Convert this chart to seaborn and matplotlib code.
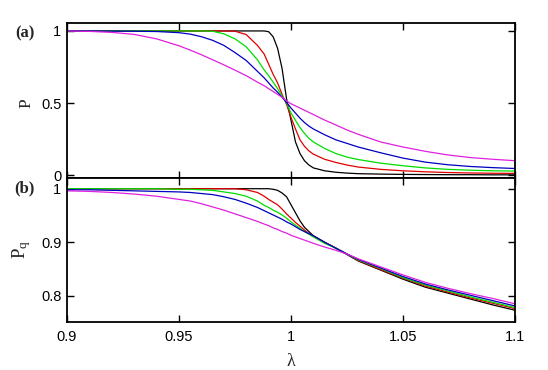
import matplotlib
matplotlib.use("Agg")
import matplotlib.pyplot as plt
import pandas as pd
import seaborn as sns

# lambda grid shared by every curve
lam = [0.900, 0.910, 0.920, 0.930, 0.940, 0.950, 0.955, 0.960, 0.965, 0.970,
       0.975, 0.980, 0.985, 0.988, 0.990, 0.992, 0.994, 0.996, 0.998, 1.000,
       1.002, 1.004, 1.006, 1.008, 1.010, 1.015, 1.020, 1.025, 1.030, 1.040,
       1.050, 1.060, 1.070, 1.080, 1.090, 1.100]

# panel (a): P
p_black = [1.0, 1.0, 1.0, 1.0, 1.0, 1.0, 1.0, 1.0, 1.0, 1.0,
           1.0, 1.0, 1.0, 1.0, 0.995, 0.96, 0.88, 0.74, 0.53, 0.38,
           0.23, 0.15, 0.10, 0.07, 0.05, 0.03, 0.02, 0.014, 0.010, 0.007,
           0.005, 0.004, 0.003, 0.003, 0.002, 0.002]
p_red = [1.0, 1.0, 1.0, 1.0, 1.0, 1.0, 1.0, 1.0, 1.0, 1.0,
         0.998, 0.975, 0.90, 0.84, 0.77, 0.70, 0.64, 0.56, 0.49, 0.40,
         0.32, 0.245, 0.20, 0.168, 0.145, 0.11, 0.088, 0.07, 0.056, 0.04,
         0.03, 0.023, 0.018, 0.015, 0.013, 0.012]
p_green = [1.0, 1.0, 1.0, 1.0, 1.0, 1.0, 1.0, 1.0, 0.998, 0.98,
           0.945, 0.89, 0.80, 0.73, 0.69, 0.645, 0.60, 0.55, 0.50, 0.43,
           0.38, 0.33, 0.29, 0.255, 0.23, 0.185, 0.15, 0.125, 0.108, 0.083,
           0.065, 0.05, 0.04, 0.034, 0.03, 0.028]
p_blue = [1.0, 1.0, 0.999, 0.998, 0.996, 0.988, 0.978, 0.96, 0.935, 0.90,
          0.85, 0.795, 0.72, 0.675, 0.64, 0.605, 0.575, 0.54, 0.505, 0.465,
          0.43, 0.395, 0.365, 0.34, 0.32, 0.28, 0.245, 0.22, 0.195, 0.155,
          0.118, 0.09, 0.072, 0.06, 0.052, 0.046]
p_magenta = [1.0, 0.997, 0.99, 0.976, 0.945, 0.897, 0.867, 0.835, 0.80, 0.765,
             0.728, 0.69, 0.645, 0.62, 0.60, 0.58, 0.56, 0.54, 0.515, 0.495,
             0.48, 0.465, 0.45, 0.435, 0.42, 0.382, 0.348, 0.313, 0.283, 0.23,
             0.195, 0.165, 0.14, 0.122, 0.11, 0.10]

# panel (b): P_q
pq_black = [1.0, 1.0, 1.0, 1.0, 1.0, 1.0, 1.0, 1.0, 1.0, 1.0,
            1.0, 1.0, 1.0, 1.0, 1.0, 0.999, 0.997, 0.992, 0.985, 0.97,
            0.955, 0.94, 0.928, 0.92, 0.912, 0.90, 0.889, 0.877, 0.865, 0.848,
            0.831, 0.816, 0.805, 0.794, 0.783, 0.773]
pq_red = [1.0, 1.0, 1.0, 1.0, 1.0, 1.0, 1.0, 1.0, 1.0, 1.0,
          1.0, 0.998, 0.993, 0.986, 0.98, 0.975, 0.97, 0.962, 0.953, 0.945,
          0.937, 0.93, 0.923, 0.916, 0.911, 0.90, 0.889, 0.878, 0.866, 0.849,
          0.833, 0.818, 0.807, 0.796, 0.786, 0.776]
pq_green = [1.0, 1.0, 1.0, 1.0, 1.0, 0.999, 0.999, 0.998, 0.997, 0.994,
            0.991, 0.986, 0.977, 0.969, 0.965, 0.96, 0.956, 0.951, 0.945, 0.938,
            0.932, 0.926, 0.92, 0.915, 0.91, 0.898, 0.889, 0.878, 0.867, 0.851,
            0.834, 0.82, 0.809, 0.798, 0.788, 0.778]
pq_blue = [0.998, 0.998, 0.997, 0.996, 0.995, 0.994, 0.993, 0.991, 0.989, 0.985,
           0.98, 0.973, 0.965, 0.959, 0.955, 0.951, 0.947, 0.943, 0.938, 0.934,
           0.929, 0.924, 0.92, 0.916, 0.912, 0.90, 0.889, 0.878, 0.868, 0.852,
           0.836, 0.822, 0.811, 0.801, 0.791, 0.781]
pq_magenta = [0.996, 0.995, 0.993, 0.99, 0.986, 0.98, 0.977, 0.972, 0.966, 0.96,
              0.953, 0.946, 0.939, 0.934, 0.931, 0.927, 0.924, 0.92, 0.917, 0.913,
              0.91, 0.907, 0.904, 0.901, 0.898, 0.891, 0.885, 0.878, 0.869, 0.854,
              0.839, 0.825, 0.814, 0.804, 0.795, 0.785]

curve_names = ["k", "r", "g", "b", "m"]
curve_colors = ["#000000", "#e00000", "#00dd00", "#0000c0", "#e020e0"]

x_ticks = [0.9, 0.95, 1.0, 1.05, 1.1]
x_ticklabels = ["0.9", "0.95", "1", "1.05", "1.1"]
p_ticks = [0, 0.5, 1]
p_ticklabels = ["0", "0.5", "1"]
pq_ticks = [0.8, 0.9, 1.0]
pq_ticklabels = ["0.8", "0.9", "1"]


def long_form(curves):
    frames = []
    for name, vals in zip(curve_names, curves):
        frames.append(pd.DataFrame({"lam": lam, "val": vals, "curve": name}))
    return pd.concat(frames, ignore_index=True)


def style_axis(ax, yticks, ylabels, ylim):
    ax.set_xlim(0.9, 1.1)
    ax.set_ylim(*ylim)
    ax.set_xticks(x_ticks)
    ax.set_yticks(yticks)
    ax.set_yticklabels(ylabels)
    ax.set_xlabel("")
    ax.set_ylabel("")
    ax.tick_params(direction="in", length=5, width=1, top=True, right=True,
                   labelsize=10.5, colors="black", pad=4)
    ax.tick_params(axis="x", pad=6)
    for sp in ax.spines.values():
        sp.set_visible(True)
        sp.set_linewidth(1.3)
        sp.set_color("black")
    if ax.get_legend() is not None:
        ax.get_legend().remove()


sns.set_theme(style="ticks")
plt.rcParams["font.family"] = ["Liberation Sans", "DejaVu Sans"]

fig = plt.figure(figsize=(5.48, 3.70), dpi=100)
ax_top = fig.add_axes([0.1223, 0.5189, 0.8175, 0.4189])
ax_bot = fig.add_axes([0.1223, 0.1297, 0.8175, 0.3892])

pal = dict(zip(curve_names, curve_colors))
sns.lineplot(data=long_form([p_black, p_red, p_green, p_blue, p_magenta]),
             x="lam", y="val", hue="curve", palette=pal, lw=0.9, ax=ax_top)
sns.lineplot(data=long_form([pq_black, pq_red, pq_green, pq_blue, pq_magenta]),
             x="lam", y="val", hue="curve", palette=pal, lw=0.9, ax=ax_bot)

style_axis(ax_top, p_ticks, p_ticklabels, (-0.02, 1.055))
ax_top.set_xticklabels([])
style_axis(ax_bot, pq_ticks, pq_ticklabels, (0.751, 1.02))
ax_bot.set_xticklabels(x_ticklabels)

serif = ["Liberation Serif", "DejaVu Serif"]
fig.text(0.045, 0.91, "(a)", family=serif, weight="bold", size=12,
         ha="center", va="center")
fig.text(0.045, 0.49, "(b)", family=serif, weight="bold", size=12,
         ha="center", va="center")
fig.text(0.048, 0.72, "P", family=serif, size=12.5, rotation=90,
         ha="center", va="center")
fig.text(0.040, 0.325, r"$\mathregular{P_{q}}$", family=serif, size=13.5,
         rotation=90, ha="center", va="center")
fig.text(0.53, 0.022, "\u03bb", family=serif, size=13, ha="center", va="center")

fig.savefig("out.png", dpi=100)
